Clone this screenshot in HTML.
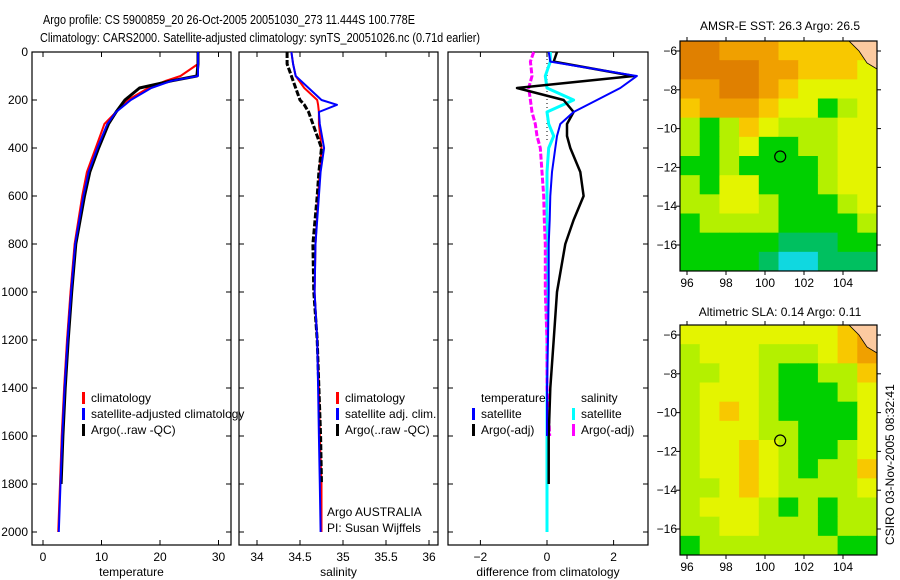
<!DOCTYPE html>
<html><head><meta charset="utf-8">
<style>
html,body{margin:0;padding:0;background:#fff;}
svg{display:block;font-family:"Liberation Sans",sans-serif;}
</style></head>
<body>
<svg id="fig" width="900" height="580" viewBox="0 0 900 580" xmlns="http://www.w3.org/2000/svg">
<text x="43" y="24" font-size="13" textLength="372" lengthAdjust="spacingAndGlyphs">Argo profile: CS 5900859_20 26-Oct-2005 20051030_273 11.444S 100.778E</text>
<text x="40" y="42" font-size="13" textLength="440" lengthAdjust="spacingAndGlyphs">Climatology: CARS2000. Satellite-adjusted climatology: synTS_20051026.nc (0.71d earlier)</text>
<text x="780" y="30" font-size="12" text-anchor="middle">AMSR-E SST: 26.3 Argo: 26.5</text>
<text x="780" y="316" font-size="12" text-anchor="middle">Altimetric SLA: 0.14 Argo: 0.11</text>
<text transform="translate(894,545) rotate(-90)" font-size="12">CSIRO 03-Nov-2005 08:32:41</text>
<g id="plots"></g>
</svg>
<script>
// ---- profile data ----
const depthT = [0,50,100,120,150,200,250,300,400,500,600,800,1000,1200,1400,1600,1800,2000];
const tempClim = [26.5,26.5,23.5,21,18,14.5,12.5,10.5,9,7.5,6.7,5.4,4.7,4.1,3.6,3.2,2.9,2.6];
const tempSat  = [26.5,26.5,26.5,22,18.5,15,12.5,11,9.3,7.8,6.9,5.5,4.8,4.2,3.7,3.3,3.0,2.7];
const tempArgo = [26.5,26.5,26.3,22,16.5,14,12.5,11.2,9.5,8,7.1,5.6,4.9,4.3,3.8,3.4,3.1];
const depthS = [0,50,100,150,200,220,250,300,400,500,600,800,1000,1200,1400,1600,1800,2000];
const salClim = [34.4,34.42,34.45,34.55,34.7,34.71,34.72,34.72,34.75,34.73,34.71,34.68,34.67,34.7,34.72,34.73,34.75,34.75];
const salSat  = [34.4,34.42,34.45,34.6,34.75,34.93,34.72,34.73,34.78,34.74,34.72,34.68,34.67,34.7,34.71,34.72,34.73,34.74];
const salArgo = [34.35,34.35,34.4,34.45,34.5,34.55,34.6,34.65,34.75,34.72,34.7,34.65,34.66,34.7,34.72,34.74,34.75];
const depthD = [0,40,100,150,200,250,300,350,400,500,600,700,800,1000,1200,1400,1600,1800,2000];
const dTempSat  = [0.05,0.1,2.7,2.2,1.5,0.8,0.4,0.3,0.25,0.15,0.1,0.08,0.05,0.05,0.03,0.0,0.0];
const dTempArgo = [0.3,0.2,2.6,-0.9,0.5,0.8,0.6,0.6,0.7,1.0,1.1,0.8,0.55,0.3,0.2,0.1,0.05,0.05];
const dSalSat   = [0.1,0.1,-0.05,0.0,0.8,0.0,0.05,0.2,0.05,0.0,0.0,0.0,0.0,0.0,0.0,0.0,0.0,0.0,0.0];
const dSalArgo  = [-0.4,-0.5,-0.45,-0.55,-0.5,-0.45,-0.35,-0.3,-0.2,-0.15,-0.1,-0.08,-0.05,-0.05,0.0,0.0,0.08];
const depthTicks = [0,200,400,600,800,1000,1200,1400,1600,1800,2000];
const tempTicks = [0,10,20,30];
const salTicks = [34,34.5,35,35.5,36];
const diffTicks = [-2,0,2];
// ---- map data (levels) ----
const sstGrid = [
[7,7,6,6,6,5,5,5,5,5],
[7,7,7,7,6,6,5,5,5,4],
[6,6,7,7,6,5,4,4,4,4],
[5,6,6,6,5,4,4,2,3,4],
[3,2,3,5,4,3,3,3,4,4],
[3,2,3,4,2,2,3,3,4,4],
[2,2,3,2,2,2,2,3,4,4],
[3,2,4,4,2,2,2,3,4,4],
[3,3,4,4,3,2,2,2,3,4],
[2,3,3,3,3,2,2,2,2,3],
[2,2,2,2,2,1,1,1,2,2],
[2,2,2,2,1,0,0,1,1,1]];
const slaGrid = [
[4,4,4,4,4,4,4,4,5,6],
[3,4,4,4,3,3,3,4,5,6],
[3,3,4,4,3,2,2,3,3,5],
[3,4,4,4,3,2,2,2,3,4],
[3,4,5,4,3,2,2,2,2,4],
[3,4,4,4,3,3,2,2,2,4],
[3,4,4,5,4,3,2,2,3,4],
[3,4,4,5,4,3,2,3,3,5],
[3,3,4,5,4,3,3,3,3,4],
[3,4,4,4,3,2,3,2,3,3],
[3,3,4,4,3,3,3,2,3,3],
[2,3,3,3,3,3,3,3,2,2]];
const lonTicks = [96,98,100,102,104];
const latTicks = [-6,-8,-10,-12,-14,-16];
const argoPos = [100.78,-11.44];
const palette = ['#10d8e0','#00c060','#00d000','#b4f000','#e4f400','#f8c800','#f0a000','#e08000'];

const NS='http://www.w3.org/2000/svg';
const root=document.getElementById('plots');
function mk(tag,attrs,parent){const e=document.createElementNS(NS,tag);for(const k in attrs)e.setAttribute(k,attrs[k]);(parent||root).appendChild(e);return e;}
const dy=d=>52+d*0.24;

function panel(name,x0,x1,xf,ticks,label,showDepth){
  const g=mk('g',{});
  
  
  const r=mk('rect',{x:x0,y:52,width:x1-x0,height:493,fill:'none',stroke:'#000','stroke-width':1.2},g);
  
  
  ticks.forEach(t=>{const x=xf(t);
    mk('line',{x1:x,x2:x,y1:545,y2:540,stroke:'#000'},g);mk('line',{x1:x,x2:x,y1:52,y2:57,stroke:'#000'},g);
    const tx=mk('text',{x:x,y:561,'font-size':12,'text-anchor':'middle'},g);tx.textContent=(t<0?'\u2212':'')+Math.abs(t);
    
    
  });
  depthTicks.forEach(d=>{const y=dy(d);
    mk('line',{x1:x0,x2:x0+5,y1:y,y2:y,stroke:'#000'},g);mk('line',{x1:x1-5,x2:x1,y1:y,y2:y,stroke:'#000'},g);
    if(showDepth){const tx=mk('text',{x:x0-4,y:y+4,'font-size':12,'text-anchor':'end'},g);tx.textContent=d;
      
      }
  });
  const lt=mk('text',{x:(x0+x1)/2,y:576,'font-size':12,'text-anchor':'middle'},g);lt.textContent=label;
  
  
  return g;
}
function line(g,depths,vals,xf,color,w,name,dash){
  const pts=vals.map((v,i)=>xf(v).toFixed(1)+','+dy(depths[i]).toFixed(1)).join(' ');
  const p=mk('polyline',{points:pts,fill:'none',stroke:color,'stroke-width':w,'stroke-linejoin':'round'},g);
  if(dash)p.setAttribute('stroke-dasharray',dash);
  
  
}
function legend(g,x,y,items){
  items.forEach((it,i)=>{const yy=y+i*16;
    if(it.c){mk('rect',{x:x,y:yy-10,width:3,height:12,fill:it.c},g);}
    const t=mk('text',{x:x+9,y:yy,'font-size':12},g);t.textContent=it.t;
    
    
  });
}
// temperature panel
const xT=v=>43+v*5.85;
const g1=panel('temperature-panel',32,231,xT,tempTicks,'temperature',true);
line(g1,depthT,tempClim,xT,'#f00',2,'temp-climatology-line');
line(g1,depthT,tempArgo,xT,'#000',3,'temp-argo-line');
line(g1,depthT,tempSat,xT,'#00f',2,'temp-satellite-line');
legend(g1,82,402,[{c:'#f00',t:'climatology'},{c:'#00f',t:'satellite-adjusted climatology'},{c:'#000',t:'Argo(..raw -QC)'}]);
// salinity panel
const xS=v=>257+(v-34)*86;
const g2=panel('salinity-panel',239,438,xS,salTicks,'salinity',false);
line(g2,depthS,salClim,xS,'#f00',2,'sal-climatology-line');
line(g2,depthS,salArgo,xS,'#000',3,'sal-argo-line','6,2');
line(g2,depthS,salSat,xS,'#00f',2,'sal-satellite-line');
legend(g2,336,402,[{c:'#f00',t:'climatology'},{c:'#00f',t:'satellite adj. clim.'},{c:'#000',t:'Argo(..raw -QC)'}]);
legend(g2,318,516,[{t:'Argo AUSTRALIA'},{t:'PI: Susan Wijffels'}]);
// difference panel
const xD=v=>547+v*33.3;
const g3=panel('difference-panel',448,648,xD,diffTicks,'difference from climatology',false);
mk('line',{x1:xD(0),x2:xD(0),y1:55,y2:140,stroke:'#000','stroke-dasharray':'1,3'},g3);
line(g3,depthD,dSalSat,xD,'#0ff',3,'dsal-satellite-line');
line(g3,depthD,dSalArgo,xD,'#f0f',3,'dsal-argo-line','6,2');
line(g3,depthD,dTempArgo,xD,'#000',2.5,'dtemp-argo-line');
line(g3,depthD,dTempSat,xD,'#00f',2,'dtemp-satellite-line');
legend(g3,472,402,[{t:'temperature'},{c:'#00f',t:'satellite'},{c:'#000',t:'Argo(-adj)'}]);
legend(g3,572,402,[{t:'salinity'},{c:'#0ff',t:'satellite'},{c:'#f0f',t:'Argo(-adj)'}]);
// maps
function map(name,y0,grid){
  const x0=680,x1=877,y1=y0+230;
  const lonX=l=>687+(l-96)*19.5, latY=l=>(y0+10)+(-6-l)*19.4;
  const g=mk('g',{});
  
  
  const cw=(x1-x0)/grid[0].length, ch=(y1-y0)/grid.length;
  grid.forEach((row,r)=>row.forEach((v,c)=>{
    const cell=mk('rect',{x:x0+c*cw,y:y0+r*ch,width:cw+0.5,height:ch+0.5,fill:palette[v]},g);
    
    
  }));
  mk('path',{d:`M${x1-28} ${y0} L${x1} ${y0} L${x1} ${y0+28} L${x1-10} ${y0+22} L${x1-18} ${y0+10} Z`,fill:'#fccaa0',stroke:'#000','stroke-width':0.8},g);
  const c=mk('circle',{cx:lonX(argoPos[0]),cy:latY(argoPos[1]),r:5.5,fill:'none',stroke:'#000','stroke-width':1.2},g);
  
  
  mk('rect',{x:x0,y:y0,width:x1-x0,height:y1-y0,fill:'none',stroke:'#000','stroke-width':1.2},g);
  lonTicks.forEach(l=>{const x=lonX(l);mk('line',{x1:x,x2:x,y1:y1,y2:y1+4,stroke:'#000'},g);mk('line',{x1:x,x2:x,y1:y0,y2:y0-4,stroke:'#000'},g);
    const t=mk('text',{x:x,y:y1+16,'font-size':12,'text-anchor':'middle'},g);t.textContent=l;
    
    });
  latTicks.forEach(l=>{const y=latY(l);mk('line',{x1:x0-4,x2:x0,y1:y,y2:y,stroke:'#000'},g);mk('line',{x1:x1,x2:x1+4,y1:y,y2:y,stroke:'#000'},g);
    const t=mk('text',{x:x0-3,y:y+4,'font-size':12,'text-anchor':'end'},g);t.textContent='\u2212'+Math.abs(l);
    
    });
}
map('sst-map',41,sstGrid);
map('sla-map',325,slaGrid);
</script>
</body></html>
